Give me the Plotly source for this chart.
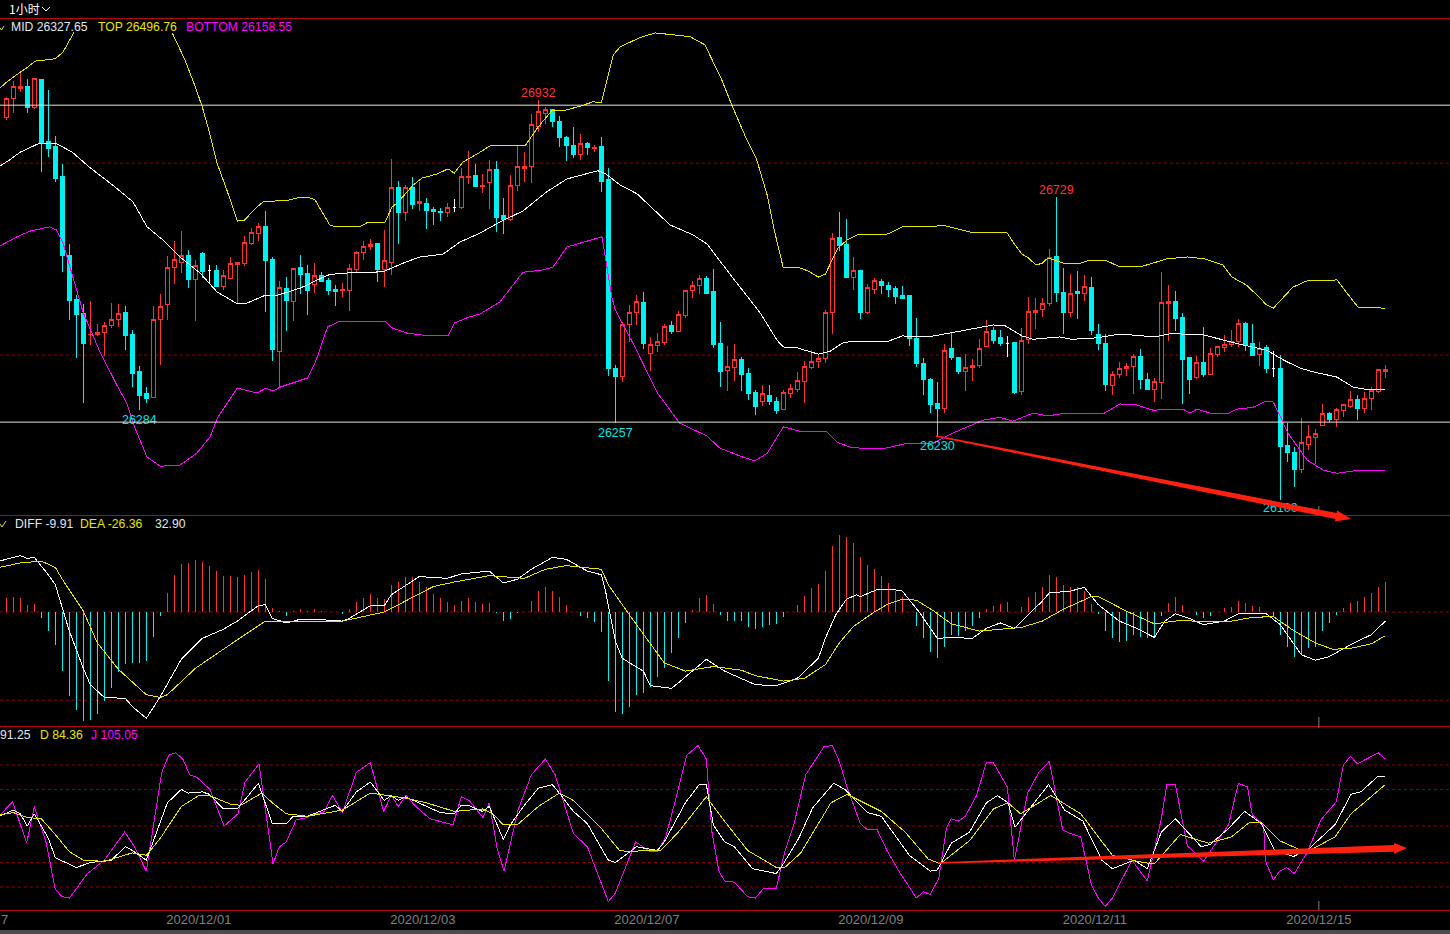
import pandas as pd
import plotly.graph_objects as go

W, H = 1450, 934

# 1 hour candles
opens = [26896,26934,26955,26959,26917,26974,26846,26834,26771,26606,
         26516,26485,26441,26443,26447,26460,26474,26487,26441,26364,
         26318,26311,26474,26504,26583,26593,26608,26556,26612,26575,
         26575,26543,26560,26589,26591,26633,26654,26667,26598,26407,
         26539,26510,26581,26570,26547,26566,26554,26537,26533,26533,
         26577,26614,26625,26633,26577,26593,26750,26696,26750,26715,
         26715,26704,26698,26696,26708,26708,26769,26775,26752,26759,
         26786,26690,26683,26754,26788,26792,26876,26903,26911,26886,
         26853,26836,26819,26840,26830,26834,26765,26372,26355,26462,
         26487,26508,26403,26420,26426,26460,26449,26481,26533,26545,
         26560,26531,26424,26366,26374,26389,26361,26320,26303,26315,
         26303,26286,26318,26328,26343,26374,26386,26391,26489,26644,
         26629,26562,26575,26489,26537,26552,26545,26539,26524,26524,
         26433,26382,26349,26297,26288,26412,26395,26364,26374,26378,
         26416,26451,26435,26424,26426,26324,26432,26489,26495,26506,
         26604,26529,26489,26531,26527,26541,26441,26424,26336,26359,
         26370,26376,26397,26349,26328,26341,26506,26510,26478,26393,
         26353,26384,26359,26401,26414,26422,26428,26466,26424,26401,
         26414,26372,26372,26211,26196,26161,26213,26226,26251,26278,
         26265,26284,26292,26307,26288,26309,26322,26364]
highs = [26938,26972,26993,26976,26976,26974,26953,26857,26798,26631,
         26524,26506,26512,26464,26468,26508,26506,26501,26451,26376,
         26332,26501,26527,26606,26637,26658,26618,26598,26614,26587,
         26587,26577,26604,26593,26648,26664,26675,26700,26604,26554,
         26562,26581,26608,26587,26591,26573,26560,26545,26550,26589,
         26616,26637,26641,26633,26660,26809,26763,26754,26771,26761,
         26727,26708,26706,26717,26725,26790,26825,26798,26777,26807,
         26805,26727,26775,26838,26823,26903,26932,26917,26913,26899,
         26857,26876,26861,26844,26838,26855,26790,26378,26468,26504,
         26524,26531,26437,26445,26464,26470,26491,26535,26554,26566,
         26564,26579,26468,26418,26422,26395,26372,26326,26336,26336,
         26311,26326,26338,26364,26386,26410,26399,26493,26654,26698,
         26683,26604,26575,26547,26560,26558,26552,26543,26543,26524,
         26476,26393,26351,26343,26422,26447,26395,26401,26391,26432,
         26472,26458,26451,26439,26426,26455,26520,26518,26518,26621,
         26729,26581,26568,26575,26566,26562,26464,26443,26366,26384,
         26382,26401,26412,26361,26351,26573,26545,26533,26487,26393,
         26397,26458,26414,26418,26441,26451,26474,26468,26464,26426,
         26420,26407,26399,26257,26207,26267,26253,26244,26297,26280,
         26288,26297,26324,26315,26322,26332,26368,26378]
lows = [26890,26905,26949,26905,26913,26781,26813,26761,26573,26472,
        26393,26299,26420,26439,26397,26455,26458,26410,26332,26284,
        26299,26311,26378,26472,26547,26570,26539,26470,26560,26547,
        26541,26535,26560,26506,26585,26629,26637,26489,26386,26332,
        26449,26470,26527,26483,26529,26552,26524,26501,26520,26491,
        26570,26598,26618,26552,26541,26566,26631,26679,26704,26700,
        26662,26671,26679,26687,26698,26704,26756,26752,26738,26704,
        26656,26652,26679,26742,26761,26759,26865,26882,26876,26834,
        26805,26811,26807,26817,26823,26740,26355,26257,26343,26426,
        26462,26412,26366,26405,26420,26443,26449,26476,26518,26527,
        26527,26414,26332,26324,26345,26324,26305,26274,26292,26295,
        26276,26284,26309,26322,26299,26370,26372,26382,26443,26616,
        26562,26535,26474,26485,26527,26527,26520,26506,26516,26418,
        26374,26315,26278,26230,26278,26389,26359,26324,26345,26372,
        26416,26422,26418,26395,26318,26315,26422,26453,26478,26501,
        26510,26443,26478,26474,26512,26441,26410,26324,26315,26351,
        26355,26318,26328,26326,26301,26307,26428,26449,26297,26318,
        26349,26353,26359,26395,26405,26416,26416,26407,26397,26376,
        26361,26353,26096,26175,26123,26152,26200,26171,26251,26259,
        26249,26269,26288,26263,26278,26284,26320,26351]
closes = [26936,26959,26959,26917,26976,26844,26830,26767,26606,26514,
          26483,26424,26443,26447,26460,26474,26485,26439,26361,26315,
          26309,26474,26501,26583,26598,26608,26556,26587,26573,26575,
          26543,26566,26591,26593,26635,26656,26667,26596,26410,26541,
          26512,26579,26568,26533,26566,26552,26533,26531,26535,26579,
          26614,26625,26631,26577,26596,26750,26696,26750,26713,26719,
          26700,26698,26696,26708,26708,26771,26773,26752,26754,26786,
          26687,26683,26754,26792,26792,26880,26907,26913,26886,26853,
          26836,26817,26840,26832,26832,26761,26370,26355,26462,26489,
          26510,26424,26422,26428,26458,26449,26483,26533,26545,26560,
          26527,26422,26364,26376,26389,26359,26318,26292,26318,26303,
          26284,26320,26330,26345,26376,26386,26391,26487,26642,26627,
          26562,26575,26489,26541,26554,26545,26535,26522,26518,26433,
          26382,26349,26295,26288,26409,26395,26364,26374,26378,26412,
          26449,26430,26424,26424,26320,26430,26491,26493,26506,26602,
          26529,26489,26527,26527,26543,26451,26424,26338,26359,26372,
          26376,26397,26347,26328,26343,26508,26510,26476,26389,26349,
          26384,26359,26403,26418,26422,26428,26464,26422,26399,26412,
          26372,26372,26209,26196,26161,26217,26228,26236,26278,26265,
          26286,26295,26307,26288,26309,26326,26368,26368]

top_idx = [-0.9,0.1,2,3.1,4.1,7,8.1,9.7,None,23.7,25.5,27,28,29,30.1,31.5,33,34,35.8,36.7,40.5,42,43.1,44.1,45.2,46.2,47,50.5,51.7,54.1,55.1,56,58.1,59.4,61.5,63.1,64,65.2,67.7,69.1,74.1,76,78,79.5,82,83.8,85,85.8,86.7,87.7,90.5,92.7,94.8,97.7,99.8,102.2,103.7,105.8,107.2,108.7,109.8,111,113,114.5,116,117,118.8,120.1,121.5,126,128,134.1,137.7,143,143.8,145.1,146,147.1,148,148.8,151,153.4,154.5,157.2,158.8,162.4,165.8,168.8,171.2,173.8,175.1,177.2,179.1,180,181,183.8,185.8,190.1,191.5,193.1,197]
top_val = [26957,26970,26990,27001,27013,27018,27032,27074,None,27072,27016,26959,26917,26865,26800,26744,26679,26681,26708,26719,26723,26729,26729,26723,26696,26671,26667,26667,26677,26677,26708,26719,26754,26769,26777,26788,26779,26802,26823,26836,26836,26876,26911,26909,26919,26928,26926,26974,27026,27043,27062,27072,27068,27064,27047,26974,26919,26848,26807,26733,26654,26581,26583,26575,26562,26568,26623,26639,26650,26652,26667,26669,26656,26654,26635,26610,26602,26587,26591,26602,26591,26591,26596,26596,26585,26585,26600,26604,26600,26587,26562,26545,26518,26504,26497,26541,26554,26556,26529,26499,26497]
mid_idx = [-0.9,0.5,2,4.5,7,9.4,12,15.2,18.1,20.1,22.4,24.8,27.7,30.1,33,34.1,37,38.7,42,45.9,47.7,53.8,57,59.1,62.4,64.8,67.7,70.5,73.8,77.2,80.1,82,84.5,85.5,87.7,90.1,94.8,98.1,100.1,103.8,107.7,110.1,111,113,116,117.7,119.4,120.8,126,128,131.7,135.5,138.7,141,142.7,145.1,146.7,150.5,152.2,155.8,159.1,164.1,166.7,169.1,170.5,174.4,176.7,180.1,182.4,184.8,186.7,190.1,192.4,194.8,197]
mid_val = [26794,26807,26823,26840,26842,26823,26790,26754,26719,26667,26639,26604,26570,26531,26506,26506,26524,26524,26539,26566,26570,26573,26593,26604,26610,26635,26654,26677,26700,26740,26767,26775,26784,26779,26754,26736,26671,26650,26631,26560,26487,26430,26416,26414,26401,26407,26424,26428,26428,26439,26437,26447,26455,26462,26460,26439,26432,26437,26432,26435,26443,26437,26445,26441,26443,26428,26420,26409,26389,26372,26364,26353,26332,26326,26328]
bot_idx = [-0.9,1.5,3.4,6.2,7.2,8.1,11,13.4,15.8,17.2,18.4,20.1,22,24.8,27.2,29.1,30.2,33,35.8,37.1,38.1,39.1,43,44.1,45.9,47.7,54.1,55.1,57.2,60.5,63.1,64,66,67.7,70.5,73.8,76.7,78.1,80.1,82,85.1,85.8,86.5,87,89.8,93,96.2,100.1,101.9,105.2,106.9,108.7,111,113.4,117.1,118.7,120.5,123,125.8,128.7,132.4,135.2,139.5,141.9,143.8,146.7,148.8,150.5,156.9,159.1,161.5,163.8,168.1,169.1,170.1,172.4,174.4,175.8,178.1,180,181,183.1,185.8,188.1,190.1,192.4,197]
bot_val = [26627,26646,26658,26667,26660,26633,26487,26405,26336,26299,26246,26186,26167,26169,26194,26228,26269,26330,26320,26330,26324,26332,26351,26382,26458,26470,26470,26456,26445,26439,26439,26466,26478,26485,26510,26572,26577,26583,26625,26633,26646,26583,26520,26493,26416,26320,26257,26230,26205,26186,26178,26194,26249,26240,26240,26217,26207,26203,26205,26215,26215,26236,26263,26269,26261,26278,26272,26276,26278,26297,26295,26284,26286,26278,26286,26276,26276,26286,26290,26303,26301,26236,26180,26159,26152,26157,26158]

# high / low price labels
label_idx = [76, 150, 19, 87, 133, 182]
label_val = [26932, 26729, 26284, 26257, 26230, 26100]
label_txt = ["26932", "26729", "26284", "26257", "26230", "26100"]
label_col = ["#ff3232", "#ff3232", "#00e5e5", "#00e5e5", "#00e5e5", "#00e5e5"]
label_pos = ["top center", "top center", "bottom center", "bottom center", "bottom center", "bottom center"]
# the lower labels sit a little further from their wick
label_gap = [0, 0, 10, 10, 10, 10]

# MACD
macd_hist = [15,17,15,8,9,-7,-21,-36,-65,-92,
             -108,-120,-119,-112,-98,-84,-66,-57,-56,-56,
             -54,-27,-4,21,41,53,54,57,55,51,
             45,40,40,39,41,44,46,36,4,1,
             -4,1,3,1,3,1,0.5,0.5,-2,3,
             11,15,20,15,14,30,33,39,38,33,
             27,20,15,11,8,12,15,11,9,10,
             -1,-10,-8,-1,0.5,12,23,28,23,17,
             8,0.5,-4,-7,-11,-22,-76,-110,-112,-105,
             -91,-89,-82,-72,-62,-45,-29,-12,2,15,
             19,9,-3,-10,-10,-10,-16,-19,-17,-14,
             -13,-6,0.5,8,18,26,31,45,73,85,
             82,76,60,52,47,40,32,23,17,0.5,
             -15,-29,-44,-51,-38,-25,-26,-21,-15,-7,
             3,7,9,11,0.5,5,16,22,28,41,
             39,30,28,27,23,9,-2,-21,-29,-33,
             -32,-25,-28,-29,-26,-4,10,16,8,0.5,
             -3,-7,-4,0.5,4,6,12,10,7,5,
             0.5,-5,-25,-39,-50,-47,-40,-38,-21,-12,
             -3,4,10,12,17,21,28,33]
diff_idx = [-1,2,3,4,6,7,9,11,12,14,17,18,20,22,25,28,31,33,36,37,38,40,42,44,48,49,52,54,55,59,63,65,69,71,73,75,78,80,83,85,85.6,87,88,91,92,95,96,98,100,102.6,104,107,110,113,116,117,118.5,120,121.5,122,124.5,126.5,128,130.5,133,135,138,140,142,144,148,149,152,154,156,159,161.5,164,165.5,167,169,171,174,176,180,182,185,187,189,192.5,195,197]
diff_val = [56,62,59,60,41,30,-21,-62,-80,-94,-95,-104,-117,-93,-52,-29,-19,-10,7,8,-7,-12,-8,-8,-10,-7,7,7,19,39,37,42,45,32,36,47,60,58,45,41,23,-32,-51,-65,-81,-84,-78,-65,-52,-65,-70,-80,-81,-73,-51,-29,-3,14,19,17,25,25,23,-1,-29,-28,-29,-18,-12,-18,12,21,23,27,8,-10,-18,-28,-10,-2,-7,-14,-10,-2,-2,-14,-47,-53,-49,-34,-25,-10]
dea_idx = [-1,2,5,7,8,11,13,16,20,22,23,27,31,34,37,48,54,61,64,69,74,77,80,85,86,89,92,94,97,101,103,105,107,111,114,117,119,121,124,126,128,130,132.5,135,139,145,148,151,155,156,160,164,168,171,175,178,181,184,187,189.5,192,195,197]
dea_val = [49,54,56,49,36,1,-34,-63,-91,-94,-91,-62,-41,-25,-10,-10,0,28,33,40,37,47,51,47,30,-3,-34,-56,-65,-60,-62,-64,-70,-76,-73,-58,-34,-16,0,9,14,13,1,-13,-21,-17,-10,3,17,17,1,-13,-9,-11,-10,-6,-5,-21,-34,-41,-40,-35,-26]

# KDJ
k_idx = [-1,1,2,3,4,6,7,10,12,15,17,18,20,23,25,26,28,29,31,33,36,38,40,41,43,47,48,50,52,54,55,56,57,62,64,65,66,68,69,71,72,74,76,78,79,81,83,86,87,90,93,94,97,99,100,101,102.6,104,106.6,110,111,113.2,115.2,118.2,119.8,123,125,129,132,133,135,137.6,140,141.6,143.1,144.1,148.9,151.2,153.8,156.5,158,161.1,163,165,167,170.7,172,174.6,176.9,179.3,181.2,183.9,186.2,189.8,192.1,193.5,196,197]
k_val = [58,63,60,50,60,40,24,16,20,22,33,30,22,69,80,77,78,76,64,64,85,52,52,58,58,67,62,78,86,71,75,71,74,61,60,67,67,62,66,39,51,67,81,84,77,62,52,22,20,33,30,37,69,84,84,51,37,33,15,11,19,40,65,85,80,61,58,26,13,14,36,45,69,75,69,49,84,63,54,22,15,22,15,45,56,33,35,48,62,52,30,25,32,51,76,78,91,91]
d_idx = [-1,1,3,5,7,9,11,14,18,20,22,25,27.5,29,32,33.5,36.5,38,40,43,48,52,57,60,64,68,69.5,71,73,76,79,81,85,87.6,89,91.5,93.5,96,100,102.6,105.9,110,111.2,113.5,117.8,120.1,125,128.4,131.7,133.4,137.6,141,143.1,144.9,149.2,153.5,158,162.4,164,167.7,171.7,175,177.6,179.3,181.9,184.6,186.5,189.8,192.1,197]
d_val = [59,61,57,56,43,29,22,21,28,26,40,66,75,75,68,67,77,69,60,58,63,77,73,69,62,64,60,51,51,66,77,71,48,30,29,30,30,45,74,54,30,16,16,28,69,76,62,45,23,19,38,64,69,60,75,60,26,20,19,43,36,41,53,53,38,31,31,41,60,84]
j_idx = [-0.9,0.9,2.9,4,5.7,7,8,9,11.6,14,16.9,18.2,20,22.2,23.2,24.2,25.2,26.2,27.2,29.1,31.1,33.1,34.1,36.1,38.1,39,40,41.4,43,44,45.3,46.6,48,50,52,53.9,55,56,57.1,58.5,60.5,63.8,65,66.1,68.1,69,70.1,71.1,73.1,75,77,78.4,81,83,86,87,89.9,92,93,94.2,95.9,97.2,98.8,100,100.8,101.8,102.6,104,105.9,107,108.2,110,111.2,112.5,114.2,115.5,116.8,118,119,120.1,122,123,124.4,125.8,127.4,130,131,132,133.2,134.3,135,136,137,138.6,140,141,143,144,145.9,147.5,149,150.9,151.9,153.5,155,156,157,158,160.8,163,165,165.8,167,168.7,171,174.6,176,177.3,178,179.6,179.9,181,181.9,182.9,184,185.8,187.8,190,191,192,193,196,197]
j_val = [59,70,36,66,36,-2,-8,-9,11,22,45,34,13,94,108,110,105,92,90,80,50,60,86,101,19,33,37,55,57,60,61,75,61,94,102,62,75,66,75,66,56,51,74,71,57,69,32,13,63,92,105,92,44,33,-12,-5,37,29,29,41,78,108,116,105,45,13,5,4,-8,-9,-1,-1,29,51,92,104,115,116,103,82,52,47,47,30,14,-9,-4,-6,7,48,56,54,58,75,102,102,82,22,77,94,103,47,44,41,2,-9,-16,-9,22,5,56,84,84,34,21,51,85,82,59,51,21,6,13,16,11,28,55,70,100,107,101,110,105]

# axis labels
date_ticks = [27.5, 59.5, 91.5, 123.5, 155.5, 187.5]
date_labels = ["2020/12/01", "2020/12/03", "2020/12/07", "2020/12/09", "2020/12/11", "2020/12/15"]

df = pd.DataFrame({"open": opens, "high": highs, "low": lows, "close": closes})
flat = df[df["open"] == df["close"]]
moved = df[df["open"] != df["close"]]

RED = "#ff3232"
CYAN = "#00f0f0"
GRID = "#8b0000"
BORDER = "#b40a0a"
YELLOW = "#e6e600"
MAGENTA = "#ff00ff"
CANDLE_CSS = ".cartesianlayer path{shape-rendering:crispEdges}"


def py(px):
    return 1 - px / H


def px_path(points):
    return "M " + " L ".join(f"{x / W:.5f} {py(y):.5f}" for x, y in points) + " Z"


def stems(keep):
    # histogram drawn as one pixel stems from the zero line
    xs, ys = [], []
    for i, v in enumerate(macd_hist):
        if keep(v):
            xs += [i, i, None]
            ys += [0, v, None]
    return xs, ys


fig = go.Figure()

fig.add_trace(go.Candlestick(
    x=moved.index, open=moved["open"], high=moved["high"], low=moved["low"], close=moved["close"],
    increasing=dict(line=dict(color=RED, width=1), fillcolor="#000000"),
    decreasing=dict(line=dict(color=CYAN, width=1), fillcolor=CYAN),
    showlegend=False, hoverinfo="skip",
))
fig.add_trace(go.Candlestick(
    x=flat.index, open=flat["open"], high=flat["high"], low=flat["low"], close=flat["close"],
    increasing=dict(line=dict(color="#ffffff", width=1), fillcolor="#ffffff"),
    decreasing=dict(line=dict(color="#ffffff", width=1), fillcolor="#ffffff"),
    showlegend=False, hoverinfo="skip",
))

# Bollinger lines
for xs, ys, col in [(top_idx, top_val, YELLOW), (mid_idx, mid_val, "#ffffff"), (bot_idx, bot_val, MAGENTA)]:
    fig.add_trace(go.Scatter(x=xs, y=ys, mode="lines", line=dict(color=col, width=1),
                             connectgaps=False, showlegend=False, hoverinfo="skip"))

fig.add_trace(go.Scatter(
    x=label_idx, y=[v - g for v, g in zip(label_val, label_gap)], text=label_txt, mode="text",
    textposition=label_pos,
    textfont=dict(family="Liberation Sans", size=12.5, color=label_col),
    showlegend=False, hoverinfo="skip",
))

# MACD panel
for keep, col in [(lambda v: v > 0, RED), (lambda v: v <= 0, CYAN)]:
    xs, ys = stems(keep)
    fig.add_trace(go.Scatter(x=xs, y=ys, mode="lines", line=dict(color=col, width=1),
                             connectgaps=False, xaxis="x2", yaxis="y2", showlegend=False, hoverinfo="skip"))
for xs, ys, col in [(diff_idx, diff_val, "#ffffff"), (dea_idx, dea_val, YELLOW)]:
    fig.add_trace(go.Scatter(x=xs, y=ys, mode="lines", line=dict(color=col, width=1),
                             xaxis="x2", yaxis="y2", showlegend=False, hoverinfo="skip"))

# KDJ panel
for xs, ys, col in [(j_idx, j_val, MAGENTA), (k_idx, k_val, "#ffffff"), (d_idx, d_val, YELLOW)]:
    fig.add_trace(go.Scatter(x=xs, y=ys, mode="lines", line=dict(color=col, width=1),
                             xaxis="x3", yaxis="y3", showlegend=False, hoverinfo="skip"))

shapes = []

# dashed levels
for yref, levels in [("y", [26800, 26399]), ("y2", [0, -97]), ("y3", [100, 80, 50, 20, 0])]:
    for level in levels:
        shapes.append(dict(type="line", xref="paper", yref=yref, x0=0, x1=1, y0=level, y1=level,
                           layer="below", line=dict(color=GRID, width=1, dash="3px,3px")))

# white levels drawn on the price panel
for level in [26921, 26259]:
    shapes.append(dict(type="line", xref="paper", yref="y", x0=0, x1=1, y0=level, y1=level,
                       layer="above", line=dict(color="#e6e6dc", width=1)))

# panel borders
for y_px in [18.5, 515.5, 726.5, 910.5]:
    shapes.append(dict(type="line", xref="paper", yref="paper", x0=0, x1=1, y0=py(y_px), y1=py(y_px),
                       layer="above", line=dict(color=BORDER, width=1)))

# little grey date marks at the last date
for y0, y1 in [(506, 515), (717, 726), (726, 728), (901, 910)]:
    shapes.append(dict(type="line", xref="x", yref="paper", x0=187.5, x1=187.5, y0=py(y0), y1=py(y1),
                       layer="above", line=dict(color="#808080", width=1)))

# strip at the bottom of the window
shapes.append(dict(type="rect", xref="paper", yref="paper", x0=0, x1=1, y0=0, y1=py(930),
                   layer="above", fillcolor="#4d4d4d", line=dict(width=0)))

# hand drawn arrows
shapes.append(dict(type="path", xref="paper", yref="paper", layer="above", fillcolor="#ff2010", line=dict(width=0),
                   path=px_path([(936.2, 435.2), (1336.6, 513.1), (1337.1, 510.6), (1351, 519),
                                 (1334.9, 521.4), (1335.4, 518.9), (935.8, 436.8)])))
shapes.append(dict(type="path", xref="paper", yref="paper", layer="above", fillcolor="#ff2010", line=dict(width=0),
                   path=px_path([(938, 862.3), (1394, 845.1), (1394, 842.9), (1407, 848),
                                 (1394, 853.9), (1394, 851.7), (938, 863.7)])))

# timeframe chevron and the small yellow ticks before the legends
for pts, col in [([(42, 7), (46, 11), (50, 7)], "#ffffff"), ([(0, 28), (1.5, 30), (4, 26)], YELLOW),
                 ([(0, 524), (2, 527), (6, 521)], YELLOW)]:
    path = "M " + " L ".join(f"{x / W:.5f} {py(y):.5f}" for x, y in pts)
    shapes.append(dict(type="path", xref="paper", yref="paper", layer="above", path=path,
                       line=dict(color=col, width=1)))

annotations = []
for text, x_px, y_px, col, fam, size in [
    ("1小时", 8, 9, "#ffffff", "Noto Sans CJK SC", 12),
    ("MID 26327.65", 10, 27, "#e0e8f0", "Liberation Sans", 12.2),
    ("TOP 26496.76", 97, 27, YELLOW, "Liberation Sans", 12.2),
    ("BOTTOM 26158.55", 185, 27, MAGENTA, "Liberation Sans", 12.2),
    ("DIFF -9.91", 14, 523.5, "#e0e8f0", "Liberation Sans", 12.2),
    ("DEA -26.36", 79, 523.5, YELLOW, "Liberation Sans", 12.2),
    ("32.90", 154, 523.5, "#e0e8f0", "Liberation Sans", 12.2),
    ("91.25", -1, 734.5, "#e0e8f0", "Liberation Sans", 12.2),
    ("D 84.36", 39, 734.5, YELLOW, "Liberation Sans", 12.2),
    ("J 105.05", 90, 734.5, MAGENTA, "Liberation Sans", 12.2),
    ("7", 0, 919, "#808080", "Liberation Sans", 13),
]:
    annotations.append(dict(text=text, xref="paper", yref="paper", x=x_px / W, y=py(y_px),
                            xanchor="left", yanchor="middle", showarrow=False, borderpad=0,
                            font=dict(family=fam, size=size, color=col)))

x_range = [-0.904, (W - 6.33) / 7]
hidden_x = dict(range=x_range, showgrid=False, zeroline=False, showticklabels=False, ticks="", showline=False)
hidden_y = dict(showgrid=False, zeroline=False, showticklabels=False, ticks="", showline=False)

fig.update_layout(
    width=W, height=H,
    margin=dict(l=0, r=0, t=0, b=0),
    paper_bgcolor="#000000", plot_bgcolor="#000000",
    showlegend=False, hovermode=False,
    shapes=shapes, annotations=annotations,
    xaxis=dict(hidden_x, anchor="y", rangeslider=dict(visible=False)),
    xaxis2=dict(hidden_x, anchor="y2"),
    xaxis3=dict(range=x_range, anchor="y3", showgrid=False, zeroline=False, showline=False, ticks="",
                tickmode="array", tickvals=date_ticks, ticktext=date_labels,
                tickfont=dict(family="Liberation Sans", size=13, color="#808080")),
    yaxis=dict(hidden_y, domain=[py(515), py(19)], range=[26065, 27101]),
    yaxis2=dict(hidden_y, domain=[py(726), py(515)], range=[-125.4, 106.7]),
    yaxis3=dict(hidden_y, domain=[py(910), py(726)], range=[-18.85, 132]),
)

fig.write_html("out.html", config={"displayModeBar": False},
               post_script="document.body.style.margin='0';document.body.style.background='#000';"
                           f"var s=document.createElement('style');s.textContent='{CANDLE_CSS}';"
                           "document.head.appendChild(s);")
